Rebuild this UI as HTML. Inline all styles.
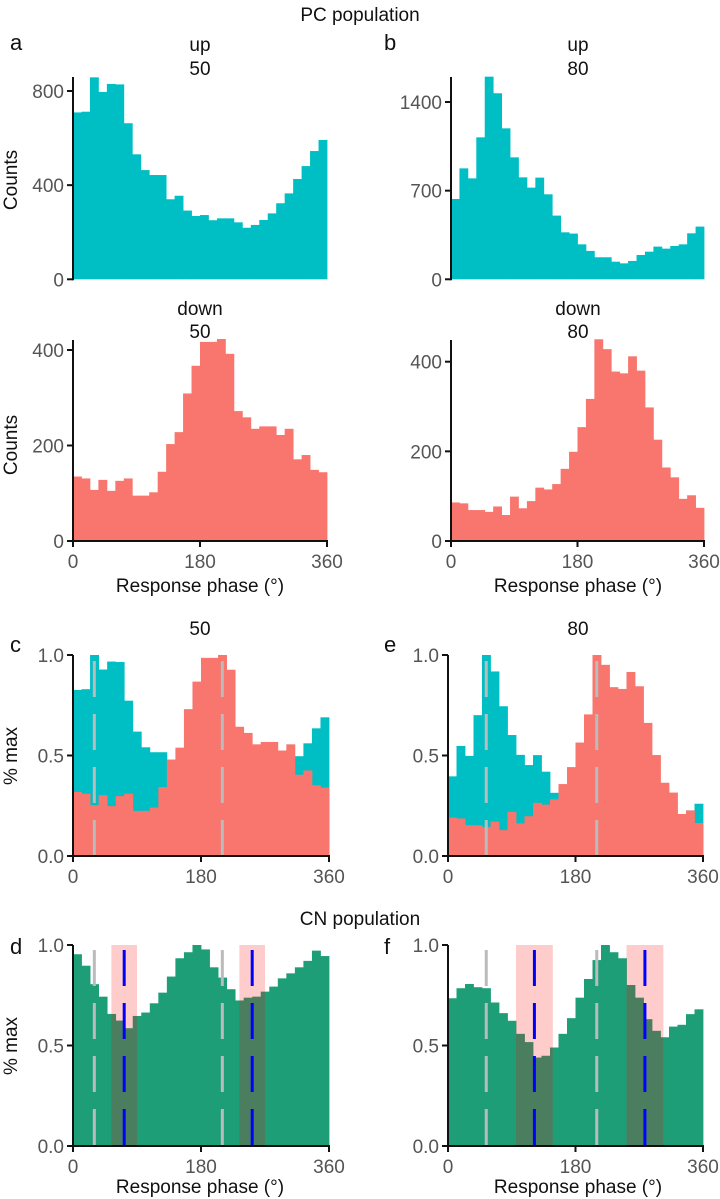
<!DOCTYPE html>
<html><head><meta charset="utf-8">
<style>
html,body{margin:0;padding:0;background:#fff;}
svg{display:block;font-family:"Liberation Sans",Arial,sans-serif;}
.tick{fill:#555;font-size:19px;}
.ttl{fill:#111;font-size:19px;}
.lab{fill:#111;font-size:19px;}
.let{fill:#111;font-size:22px;}
</style></head>
<body>
<svg id="fig" width="720" height="1199" viewBox="0 0 720 1199" xmlns="http://www.w3.org/2000/svg"></svg>
<script>
// ---- data (30 bins of 12 degrees) ----
const upA   = [709,712,858,796,830,828,663,531,464,443,443,340,355,292,269,273,251,259,259,242,219,231,252,280,323,365,426,481,545,592];
const upB   = [634,876,797,1121,1600,1469,1192,963,805,724,803,671,503,371,361,276,224,174,174,139,126,145,192,218,258,242,263,276,363,416];
const downA = [135,131,107,128,105,126,131,95,95,102,145,203,228,309,367,417,417,423,392,272,259,235,240,240,222,235,171,180,149,144];
const downB = [86,84,69,69,65,77,58,99,73,89,119,115,127,161,199,254,317,450,428,378,374,412,380,298,226,164,142,94,102,74];
const cnD   = [0.954,0.897,0.805,0.743,0.657,0.624,0.586,0.647,0.664,0.710,0.763,0.843,0.934,0.964,1.0,0.978,0.889,0.838,0.780,0.724,0.738,0.743,0.768,0.793,0.834,0.859,0.889,0.921,0.972,0.945];
const cnF   = [0.735,0.785,0.806,0.790,0.785,0.714,0.661,0.623,0.558,0.517,0.440,0.449,0.490,0.558,0.636,0.738,0.831,0.925,1.0,0.964,0.934,0.801,0.738,0.631,0.573,0.541,0.594,0.603,0.656,0.680];
const pcPeaksD = [30,210];
const pcPeaksF = [54,210];
const cnTroughD = [72,252];
const cnTroughF = [122,278];
const bandHalfD = 18;
const bandHalfF = 26;
const countTicksA = [0,400,800];
const countTicksB = [0,700,1400];
const downTicks = [0,200,400];
const normTicks = [0,0.5,1.0];
const phaseTicks = [0,180,360];

const NS="http://www.w3.org/2000/svg";
const svg=document.getElementById('fig');
function el(tag,attrs,parent){const e=document.createElementNS(NS,tag);for(const k in attrs)e.setAttribute(k,attrs[k]);(parent||svg).appendChild(e);return e;}
function txt(x,y,s,cls,anchor,parent){const t=el('text',{x:x,y:y,class:cls,'text-anchor':anchor||'middle'},parent);t.textContent=s;return t;}

function makeAxes(name,x0,x1,yBase,yTop,vMax,yMaxPix,ticks,fmt,xTicks){
  const g=el('g',{});
  
  
  const ys=v=>yBase-(v/vMax)*(yBase-yMaxPix);
  const xs=d=>x0+d/360*(x1-x0);
  return {g,ys,xs,x0,x1,yBase,yTop,ticks,fmt,xTicks};
}
function drawAxisLines(ax){
  const a=el('line',{x1:ax.x0,x2:ax.x0,y1:ax.yTop,y2:ax.yBase+1,stroke:'#111','stroke-width':2},ax.g);
  
  
  ax.ticks.forEach(v=>{
    el('line',{x1:ax.x0-6,x2:ax.x0,y1:ax.ys(v),y2:ax.ys(v),stroke:'#111','stroke-width':2},ax.g);
    const t=txt(ax.x0-9,ax.ys(v)+7,ax.fmt(v),'tick','end',ax.g);
    
    
  });
  if(ax.xTicks){
    const b=el('line',{x1:ax.x0-1,x2:ax.x1+1,y1:ax.yBase,y2:ax.yBase,stroke:'#111','stroke-width':2},ax.g);
    
    
    phaseTicks.forEach(d=>{
      el('line',{x1:ax.xs(d),x2:ax.xs(d),y1:ax.yBase,y2:ax.yBase+6,stroke:'#111','stroke-width':2},ax.g);
      const t=txt(ax.xs(d),ax.yBase+27,String(d),'tick','middle',ax.g);
      
      
    });
  }
}
function bars(ax,vals,color,name){
  const n=vals.length,w=(ax.x1-ax.x0)/n;
  vals.forEach((v,i)=>{
    const y=ax.ys(v);
    const r=el('rect',{x:ax.x0+i*w,y:y,width:w+0.4,height:ax.yBase-y,fill:color},ax.g);
    
    
  });
}
function dashed(ax,deg,color,y1,name){
  const l=el('line',{x1:ax.xs(deg),x2:ax.xs(deg),y1:y1,y2:ax.yBase,stroke:color,'stroke-width':3,'stroke-dasharray':'36 17'},ax.g);
  
  
}
function band(ax,deg,half,yTop,name){
  const r=el('rect',{x:ax.xs(deg-half),y:yTop,width:ax.xs(deg+half)-ax.xs(deg-half),height:ax.yBase-yTop,fill:'rgba(255,0,0,0.2)'},ax.g);
  
  
}
const norm=a=>{const m=Math.max(...a);return a.map(v=>v/m);};
const peakDeg=a=>{const i=a.indexOf(Math.max(...a));return i*12+6;};
const f1=v=>v.toFixed(1);
const CYAN='#00bfc4',RED='#f8766d',GREEN='#1d9e77';

// titles
let t=txt(360,21,'PC population','ttl');
t=txt(360,925,'CN population','ttl');
[['a',10,50],['b',384,50],['c',10,652],['e',384,652],['d',10,954],['f',384,954]].forEach(p=>{
  const l=txt(p[1],p[2],p[0],'let','start');
});
[[200,51,'up'],[200,75,'50'],[578,51,'up'],[578,75,'80'],[200,315,'down'],[200,338,'50'],[578,315,'down'],[578,338,'80'],[200,635,'50'],[578,635,'80']].forEach(p=>{
  const l=txt(p[0],p[1],p[2],'ttl');
});

// a up
let ax=makeAxes('panel-a-up',73,327,279.3,77,800,91,countTicksA,String,false);
bars(ax,upA,CYAN,'bar-up-50');drawAxisLines(ax);
// b up
ax=makeAxes('panel-b-up',451,704,279.3,77,1400,102,countTicksB,String,false);
bars(ax,upB,CYAN,'bar-up-80');drawAxisLines(ax);
// a down
ax=makeAxes('panel-a-down',73,327,541,340,400,350,downTicks,String,true);
bars(ax,downA,RED,'bar-down-50');drawAxisLines(ax);
// b down
ax=makeAxes('panel-b-down',451,704,541,340,400,361.7,downTicks,String,true);
bars(ax,downB,RED,'bar-down-80');drawAxisLines(ax);
// c
ax=makeAxes('panel-c',73,329,856,655,1,655,normTicks,f1,true);
bars(ax,norm(upA),CYAN,'bar-up-norm-50');bars(ax,norm(downA),RED,'bar-down-norm-50');
dashed(ax,peakDeg(upA),'#bbbbbb',661,'up-peak-line');dashed(ax,peakDeg(downA),'#bbbbbb',661,'down-peak-line');
drawAxisLines(ax);
// e
ax=makeAxes('panel-e',448,703,856,655,1,655,normTicks,f1,true);
bars(ax,norm(upB),CYAN,'bar-up-norm-80');bars(ax,norm(downB),RED,'bar-down-norm-80');
dashed(ax,peakDeg(upB),'#bbbbbb',661,'up-peak-line');dashed(ax,peakDeg(downB),'#bbbbbb',661,'down-peak-line');
drawAxisLines(ax);
// d
ax=makeAxes('panel-d',73,329,1146,945,1,945,normTicks,f1,true);
bars(ax,cnD,GREEN,'bar-cn-50');
cnTroughD.forEach(d=>band(ax,d,bandHalfD,945,'trough-band'));
pcPeaksD.forEach(d=>dashed(ax,d,'#bbbbbb',950,'pc-peak-line'));
cnTroughD.forEach(d=>dashed(ax,d,'#0000ff',950,'cn-trough-line'));
drawAxisLines(ax);
// f
ax=makeAxes('panel-f',448,703,1146,945,1,945,normTicks,f1,true);
bars(ax,cnF,GREEN,'bar-cn-80');
cnTroughF.forEach(d=>band(ax,d,bandHalfF,945,'trough-band'));
pcPeaksF.forEach(d=>dashed(ax,d,'#bbbbbb',950,'pc-peak-line'));
cnTroughF.forEach(d=>dashed(ax,d,'#0000ff',950,'cn-trough-line'));
drawAxisLines(ax);

// axis titles
function ylab(x,y,s){const l=el('text',{x:0,y:0,class:'lab','text-anchor':'middle',transform:`translate(${x},${y}) rotate(-90)`});l.textContent=s;}
ylab(17,180,'Counts');ylab(17,445,'Counts');ylab(17,756,'% max');ylab(17,1046,'% max');
[[200,592],[578,592],[200,1193],[578,1193]].forEach(p=>{const l=txt(p[0],p[1],'Response phase (°)','lab');});
</script>
</body></html>
